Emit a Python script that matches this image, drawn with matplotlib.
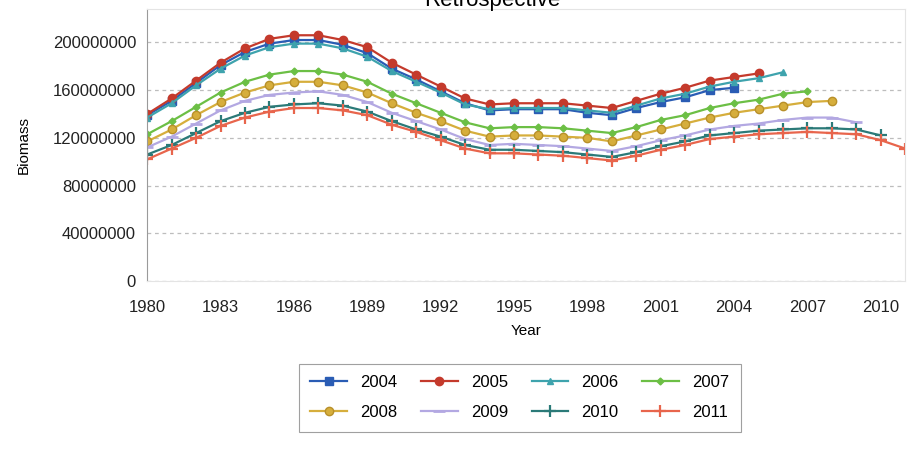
import matplotlib
matplotlib.use("Agg")
import matplotlib.pyplot as plt

plt.rcParams['font.family'] = ['Liberation Sans', 'DejaVu Sans']

# biomasa w milionach, kazdy rok retrospektywy konczy sie na swoim roku
b2004 = [139, 151, 166, 181, 192, 199, 202, 202, 198, 191, 178, 169, 159, 149, 143, 144, 144, 144, 141, 139,
         145, 150, 154, 160, 162]
b2005 = [140, 153, 168, 183, 195, 203, 206, 206, 202, 196, 183, 173, 163, 153, 148, 149, 149, 149, 147, 145,
         151, 157, 162, 168, 171, 174]
b2006 = [137, 149, 164, 178, 189, 196, 199, 199, 195, 188, 176, 167, 158, 148, 144, 145, 145, 145, 143, 141,
         147, 153, 157, 163, 167, 170, 175]
b2007 = [123, 134, 146, 158, 167, 173, 176, 176, 173, 167, 157, 149, 141, 133, 128, 129, 129, 128, 126, 124,
         129, 135, 139, 145, 149, 152, 157, 159]
b2008 = [117, 127, 139, 150, 158, 164, 167, 167, 164, 158, 149, 141, 134, 126, 121, 122, 122, 121, 120, 117,
         122, 127, 132, 137, 141, 144, 147, 150, 151]
b2009 = [112, 121, 132, 143, 151, 156, 158, 159, 156, 150, 141, 134, 127, 119, 114, 115, 114, 113, 111, 109,
         113, 118, 122, 127, 130, 132, 135, 137, 137, 133]
b2010 = [106, 114, 124, 134, 141, 146, 148, 149, 147, 142, 134, 127, 121, 114, 110, 110, 109, 108, 106, 104,
         108, 113, 117, 122, 124, 126, 127, 128, 128, 127, 122]
b2011 = [102, 111, 120, 130, 137, 142, 145, 145, 143, 139, 131, 125, 118, 111, 107, 107, 106, 105, 103, 101,
         105, 110, 114, 119, 121, 123, 124, 125, 124, 123, 118, 111]

series = [("2004", b2004), ("2005", b2005), ("2006", b2006), ("2007", b2007),
          ("2008", b2008), ("2009", b2009), ("2010", b2010), ("2011", b2011)]

styles = {
    "2004": dict(color="#2a5cb4", marker="s", ms=6),
    "2005": dict(color="#c43a2c", marker="o", ms=6),
    "2006": dict(color="#3ea3ad", marker="^", ms=5),
    "2007": dict(color="#6cbf45", marker="D", ms=3.5),
    "2008": dict(color="#d6ae3c", marker="o", ms=6, mec="#b8902a"),
    "2009": dict(color="#b3a8e2", marker="_", ms=9, mew=2),
    "2010": dict(color="#2b7a78", marker="+", ms=9, mew=1.6),
    "2011": dict(color="#e8654c", marker="+", ms=9, mew=1.6),
}

fig = plt.figure(figsize=(9.2, 4.51), dpi=100)
ax = fig.add_axes([0.160, 0.377, 0.824, 0.603])

lines = []
for name, vals in series:
    years = list(range(1980, 1980 + len(vals)))
    ln, = ax.plot(years, [v * 1e6 for v in vals], lw=1.6, label=name, **styles[name])
    lines.append(ln)

ax.set_xlim(1980, 2011)
ax.set_ylim(0, 228e6)
ax.set_xticks(range(1980, 2011, 3))
ax.set_yticks(range(0, 200000001, 40000000))
ax.set_yticklabels([str(v) for v in range(0, 200000001, 40000000)])
ax.yaxis.grid(True, ls=(0, (3, 3)), color="#bdbdbd", lw=0.9)
ax.tick_params(axis="both", length=0, labelsize=12, colors="#222222")
ax.tick_params(axis="x", pad=14)
ax.tick_params(axis="y", pad=8)
for s in ["top", "right", "bottom"]:
    ax.spines[s].set_color("#e4e4e4")
ax.spines["left"].set_color("#9a9a9a")

ax.set_ylabel("Biomass", fontsize=11, labelpad=16)
ax.set_xlabel("Year", fontsize=11, labelpad=6)

fig.text(0.535, 0.987, "Retrospective", ha="center", va="baseline", fontsize=16)

# legenda wierszami: 2004..2007 w pierwszym, 2008..2011 w drugim
order = [0, 4, 1, 5, 2, 6, 3, 7]
leg = fig.legend([lines[i] for i in order], [series[i][0] for i in order],
                 loc="center", bbox_to_anchor=(0.565, 0.118), ncol=4, fontsize=12,
                 frameon=True, fancybox=False, edgecolor="#888888", handlelength=2.2,
                 columnspacing=1.4, borderpad=0.7, labelspacing=0.9)
leg.get_frame().set_linewidth(0.8)

fig.savefig("out.png", dpi=100)
